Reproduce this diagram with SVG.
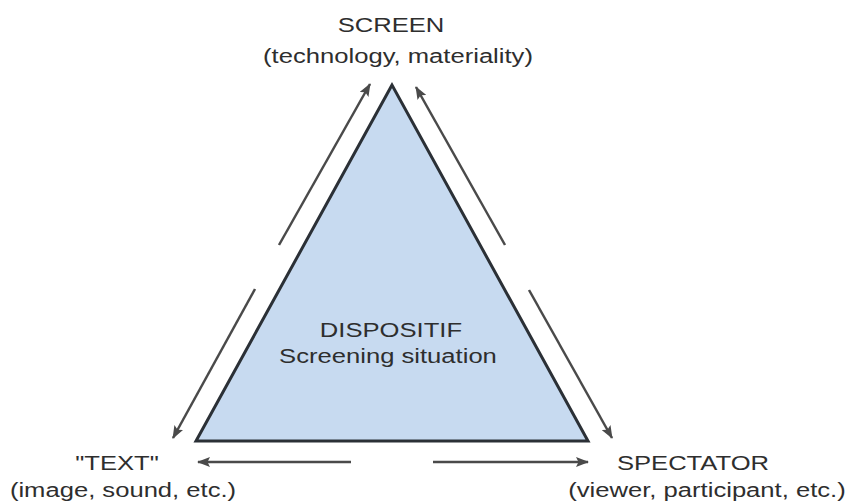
<svg xmlns="http://www.w3.org/2000/svg" width="848" height="502" viewBox="0 0 848 502">
  <defs>
    <style>
      .lbl { font-family: "Liberation Sans", Arial, sans-serif; font-size: 21px; fill: #2e2e2e; text-anchor: middle; }
      .tri { fill: #c7daf0; stroke: #2b3036; stroke-width: 3; stroke-linejoin: miter; }
      .flow { stroke: #4a4a4a; stroke-width: 2.5; fill: none; marker-end: url(#head); }
    </style>
    <marker id="head" markerUnits="userSpaceOnUse" markerWidth="13" markerHeight="10" refX="12" refY="5" orient="auto">
      <path d="M0,0 L13,5 L0,10 L2.5,5 Z" fill="#4a4a4a"/>
    </marker>
  </defs>
  <rect width="848" height="502" fill="#ffffff"/>

  <g id="dispositif">
    <polygon class="tri" points="392,85 196,441 588,441"/>
    <text class="lbl" transform="translate(391,337) scale(1.22,1)">DISPOSITIF</text>
    <text class="lbl" transform="translate(388,363) scale(1.22,1)">Screening situation</text>
  </g>

  <g id="screen">
    <text class="lbl" transform="translate(391,32) scale(1.22,1)">SCREEN</text>
    <text class="lbl" transform="translate(398,63) scale(1.22,1)">(technology, materiality)</text>
  </g>

  <g id="text">
    <text class="lbl" transform="translate(117,470) scale(1.22,1)">"TEXT"</text>
    <text class="lbl" transform="translate(123,497) scale(1.22,1)">(image, sound, etc.)</text>
  </g>

  <g id="spectator">
    <text class="lbl" transform="translate(693,470) scale(1.22,1)">SPECTATOR</text>
    <text class="lbl" transform="translate(707,497) scale(1.22,1)">(viewer, participant, etc.)</text>
  </g>

  <g id="connectors">
    <line class="flow" x1="279" y1="245" x2="370" y2="84"/>
    <line class="flow" x1="505" y1="245" x2="416" y2="87"/>
    <line class="flow" x1="255" y1="289" x2="173" y2="438"/>
    <line class="flow" x1="529" y1="290" x2="612" y2="438"/>
    <line class="flow" x1="351" y1="462" x2="198" y2="462"/>
    <line class="flow" x1="433" y1="462" x2="588" y2="462"/>
  </g>
</svg>
